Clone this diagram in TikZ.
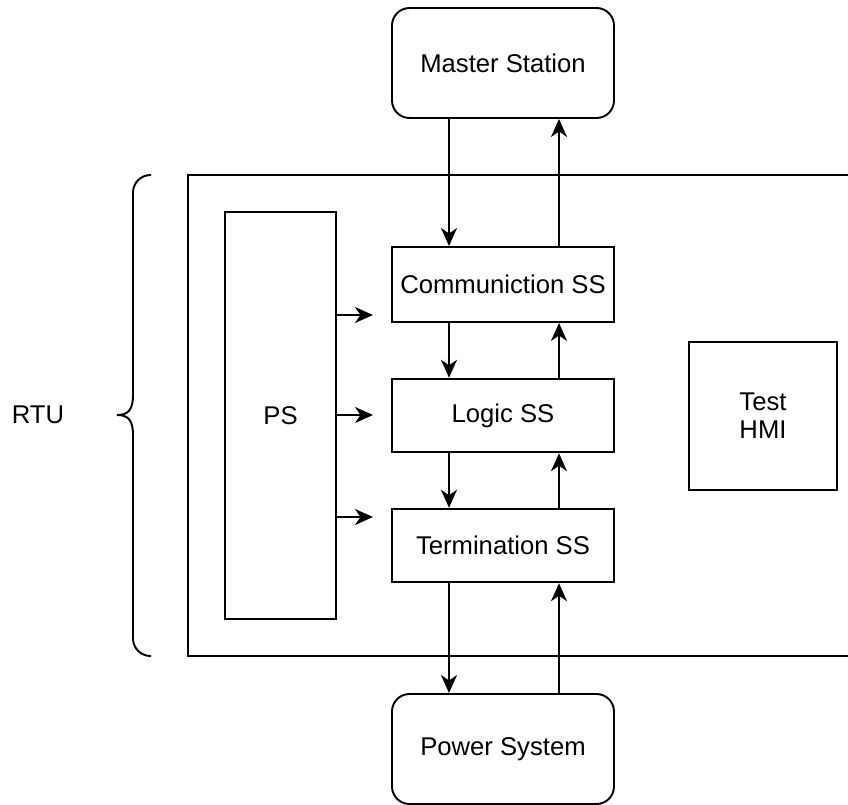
\documentclass[tikz,border=0pt]{standalone}
\usepackage{fontspec}
\setmainfont{Liberation Sans}
\usetikzlibrary{arrows.meta}

\begin{document}
\begin{tikzpicture}[line width=1.1pt,
  box/.style={draw, font=\fontsize{14.6}{16}\selectfont, align=center, inner sep=0pt},
  outbox/.style={box, rounded corners=0.35cm, minimum width=4.44cm, minimum height=2.2cm},
  ssbox/.style={box, minimum width=4.44cm, minimum height=1.47cm},
  arr/.style={-{Stealth[length=0.36cm, width=0.32cm, inset=0.11cm]}}]
\useasboundingbox (0,0) rectangle (16.96,-16.1);

\node[outbox] (mst) at (10.06,-1.26) {Master Station};
\node[ssbox, minimum height=1.5cm] (comm) at (10.06,-5.69) {Communiction SS};
\node[ssbox] (logic) at (10.06,-8.31) {Logic SS};
\node[ssbox] (term) at (10.06,-10.91) {Termination SS};
\node[outbox] (pwr) at (10.06,-14.98) {Power System};
\node[box, minimum width=2.22cm, minimum height=8.14cm] (ps) at (5.61,-8.31) {PS};
\node[box, minimum width=2.96cm, minimum height=2.96cm] (hmi) at (15.26,-8.32) {Test\\HMI};
\node[font=\fontsize{14.6}{16}\selectfont] (rtu) at (0.76,-8.3) {RTU};

% RTU frame, open on the right
\draw (16.96,-3.5) -- (3.76,-3.5) -- (3.76,-13.12) -- (16.96,-13.12);

% brace
\draw[rounded corners=0.35cm] (3.02,-3.5) -| (2.66,-7.95);
\draw (2.66,-7.9) .. controls (2.66,-8.2) and (2.56,-8.3) .. (2.34,-8.3);
\draw (2.66,-8.7) .. controls (2.66,-8.4) and (2.56,-8.3) .. (2.34,-8.3);
\draw[rounded corners=0.35cm] (2.66,-8.65) |- (3.02,-13.12);

% down the chain
\draw[arr] ([xshift=-1.08cm]mst.south) -- ([xshift=-1.08cm]comm.north);
\draw[arr] ([xshift=-1.08cm]comm.south) -- ([xshift=-1.08cm]logic.north);
\draw[arr] ([xshift=-1.08cm]logic.south) -- ([xshift=-1.08cm]term.north);
\draw[arr] ([xshift=-1.08cm]term.south) -- ([xshift=-1.08cm]pwr.north);
% up the chain
\draw[arr] ([xshift=1.12cm]pwr.north) -- ([xshift=1.12cm]term.south);
\draw[arr] ([xshift=1.12cm]term.north) -- ([xshift=1.12cm]logic.south);
\draw[arr] ([xshift=1.12cm]logic.north) -- ([xshift=1.12cm]comm.south);
\draw[arr] ([xshift=1.12cm]comm.north) -- ([xshift=1.12cm]mst.south);

% supply
\coordinate (p1) at (7.46,-6.3);
\coordinate (p2) at (7.46,-8.3);
\coordinate (p3) at (7.46,-10.34);
\draw[arr] (ps.east |- p1) -- (p1);
\draw[arr] (ps.east |- p2) -- (p2);
\draw[arr] (ps.east |- p3) -- (p3);
\end{tikzpicture}
\end{document}
